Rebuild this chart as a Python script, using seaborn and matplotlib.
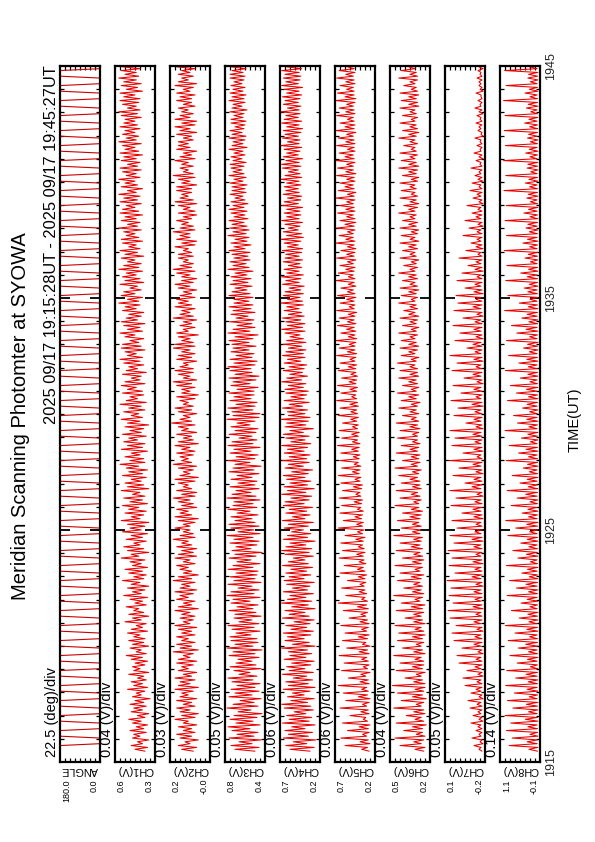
import numpy as np
import pandas as pd
import matplotlib
matplotlib.use("Agg")
import matplotlib.pyplot as plt
from matplotlib.ticker import FixedLocator, MultipleLocator
import seaborn as sns

sns.set_theme(style="white")
plt.rcParams['font.family'] = ['Liberation Sans', 'DejaVu Sans']

# ---------------- texts ----------------
title = "Meridian Scanning Photomter at SYOWA"
subtitle = "2025 09/17 19:15:28UT - 2025 09/17 19:45:27UT"
xlabel_time = "TIME(UT)"
time_tick_pos = [0, 10, 20, 30]          # minutes after 19:15
time_tick_labels = ["1915", "1925", "1935", "1945"]
data_start_min = 28 / 60                  # 19:15:28
data_end_min = 30 + 27 / 60               # 19:45:27

panel_names = ["ANGLE", "CH1(V)", "CH2(V)", "CH3(V)", "CH4(V)",
               "CH5(V)", "CH6(V)", "CH7(V)", "CH8(V)"]
div_labels = ["22.5 (deg)/div", "0.04 (V)/div", "0.03 (V)/div", "0.05 (V)/div",
              "0.06 (V)/div", "0.06 (V)/div", "0.04 (V)/div", "0.05 (V)/div",
              "0.14 (V)/div"]
div_size = [22.5, 0.04, 0.03, 0.05, 0.06, 0.06, 0.04, 0.05, 0.14]
range_min = [0.0, 0.28, -0.04, 0.40, 0.22, 0.22, 0.20, -0.25, -0.06]
top_labels = ["180.0", "0.6", "0.2", "0.8", "0.7", "0.7", "0.5", "0.1", "1.1"]
bottom_labels = ["0.0", "0.3", "-0.0", "0.4", "0.2", "0.2", "0.2", "-0.2", "-0.1"]

# ---------------- data ----------------
angle = [180, 180, 180, 180, 0, 0, 0, 0, 180, 180, 180, 180, 0, 0, 0, 0,
         180, 180, 180, 180, 0, 0, 0, 0, 180, 180, 180, 180, 0, 0, 0, 0,
         180, 180, 180, 180, 0, 0, 0, 0, 180, 180, 180, 180, 0, 0, 0, 0,
         180, 180, 180, 180, 0, 0, 0, 0, 180, 180, 180, 180, 0, 0, 0, 0,
         180, 180, 180, 180, 0, 0, 0, 0, 180, 180, 180, 180, 0, 0, 0, 0,
         180, 180, 180, 180, 0, 0, 0, 0, 180, 180, 180, 180, 0, 0, 0, 0,
         180, 180, 180, 180, 0, 0, 0, 0, 180, 180, 180, 180, 0, 0, 0, 0,
         180, 180, 180, 180, 0, 0, 0, 0, 180, 180, 180, 180, 0, 0, 0, 0,
         180, 180, 180, 180, 0, 0, 0, 0, 180, 180, 180, 180, 0, 0, 0, 0,
         180, 180, 180, 180, 0, 0, 0, 0, 180, 180, 180, 180, 0, 0, 0, 0,
         180, 180, 180, 180, 0, 0, 0, 0, 180, 180, 180, 180, 0, 0, 0, 0,
         180, 180, 180, 180, 0, 0, 0, 0, 180, 180, 180, 180, 0, 0, 0, 0,
         180, 180, 180, 180, 0, 0, 0, 0, 180, 180, 180, 180, 0, 0, 0, 0,
         180, 180, 180, 180, 0, 0, 0, 0, 180, 180, 180, 180, 0, 0, 0, 0,
         180, 180, 180, 180, 0, 0, 0, 0, 180, 180, 180, 180, 0, 0, 0, 0,
         180, 180, 180, 180, 0, 0, 0, 0, 180, 180, 180, 180, 0, 0, 0, 0,
         180, 180, 180, 180, 0, 0, 0, 0, 180, 180, 180, 180, 0, 0, 0, 0,
         180, 180, 180, 180, 0, 0, 0, 0, 180, 180, 180, 180, 0, 0, 0, 0,
         180, 180, 180, 180, 0, 0, 0, 0, 180, 180, 180, 180, 0, 0, 0, 0,
         180, 180, 180, 180, 0, 0, 0, 0, 180, 180, 180, 180, 0, 0, 0, 0,
         180, 180, 180, 180, 0, 0, 0, 0, 180, 180, 180, 180, 0, 0, 0, 0,
         180, 180, 180, 180, 0, 0, 0, 0, 180, 180, 180, 180, 0, 0, 0, 0,
         180, 180, 180, 180, 0, 0, 0, 0, 180, 180, 180, 180, 0, 0, 0, 0,
         180, 180, 180, 180]

ch1 = [.36,.44,.34,.47,.38,.42,.33,.46,.40,.45,.35,.48,
       .37,.43,.34,.46,.39,.49,.36,.42,.33,.47,.38,.45,
       .35,.48,.37,.44,.32,.46,.39,.43,.36,.50,.34,.45,
       .38,.47,.35,.42,.37,.49,.33,.45,.40,.46,.36,.44,
       .34,.47,.38,.51,.35,.43,.39,.48,.33,.46,.37,.49,
       .36,.45,.40,.50,.34,.47,.38,.43,.35,.52,.39,.46,
       .33,.49,.37,.45,.41,.51,.35,.44,.38,.48,.34,.53,
       .39,.46,.36,.50,.33,.47,.40,.54,.37,.45,.35,.49,
       .38,.52,.34,.46,.39,.48,.36,.55,.41,.47,.33,.50,
       .37,.53,.40,.45,.35,.51,.38,.47,.34,.54,.39,.48,
       .36,.50,.33,.55,.40,.47,.37,.52,.35,.49,.41,.54,
       .34,.48,.38,.53,.36,.46,.40,.55,.33,.50,.37,.52,
       .39,.47,.35,.54,.38,.49,.34,.51,.41,.56,.36,.48,
       .37,.52,.40,.47,.34,.55,.38,.50,.36,.53,.42,.49,
       .35,.54,.39,.48,.37,.52,.33,.50,.40,.55,.38,.47,
       .41,.53,.36,.49,.39,.56,.35,.51,.42,.48,.37,.54,
       .38,.50,.43,.55,.36,.52,.40,.47,.39,.54,.35,.51,
       .42,.49,.37,.53,.40,.56,.38,.50,.43,.52,.36,.55,
       .39,.54,.41,.48,.37,.52,.44,.56,.38,.50,.40,.53,
       .36,.55,.42,.51,.39,.49,.37,.54,.43,.52,.40,.57,
       .41,.50,.38,.55,.44,.53,.39,.48,.42,.56,.37,.52,
       .40,.54,.43,.51,.38,.57,.41,.53,.39,.50,.44,.55,
       .37,.52,.42,.56,.40,.49,.43,.54,.38,.55,.41,.51,
       .44,.53,.39,.57,.42,.50,.40,.55,.43,.52,.38,.56,
       .41,.54,.44,.51,.39,.56,.42,.53,.40,.57,.43,.50,
       .38,.55,.42,.52,.44,.57,.40,.51,.43,.54,.39,.56,
       .42,.50,.40,.55,.43,.53,.38,.56,.41,.52,.44,.54,
       .39,.57,.43,.51,.41,.54,.44,.52,.40,.56,.42,.53,
       .44,.52,.39,.55,.42,.57,.40,.50,.43,.54,.41,.56,
       .40,.53,.44,.56,.38,.51,.42,.55,.39,.53,.43,.57,
       .41,.52,.43,.55,.40,.54,.42,.51,.44,.56,.39,.53]

ch2 = [.06,.13,.04,.15,.08,.11,.03,.14,.07,.16,.05,.12,
       .07,.15,.04,.12,.09,.17,.05,.13,.03,.14,.08,.16,
       .05,.12,.07,.16,.04,.14,.09,.13,.06,.17,.03,.15,
       .08,.14,.05,.17,.07,.12,.04,.15,.09,.13,.06,.16,
       .04,.15,.08,.12,.06,.18,.03,.14,.07,.16,.05,.13,
       .09,.16,.05,.13,.07,.15,.04,.17,.08,.12,.06,.14,
       .05,.13,.08,.17,.03,.15,.07,.12,.05,.16,.09,.14,
       .06,.17,.04,.14,.08,.13,.05,.18,.07,.15,.03,.12,
       .07,.14,.09,.16,.05,.12,.08,.17,.04,.15,.06,.13,
       .04,.16,.07,.13,.09,.18,.05,.14,.06,.12,.08,.17,
       .08,.12,.05,.15,.03,.17,.07,.14,.09,.16,.04,.13,
       .06,.15,.08,.18,.05,.13,.04,.16,.07,.12,.09,.15,
       .05,.17,.03,.14,.08,.12,.06,.15,.04,.18,.07,.13,
       .09,.14,.06,.16,.05,.13,.08,.17,.03,.15,.06,.12,
       .07,.16,.04,.13,.09,.15,.05,.19,.07,.14,.08,.12,
       .04,.15,.07,.17,.06,.12,.09,.14,.05,.16,.03,.13,
       .08,.13,.05,.16,.07,.18,.04,.12,.08,.15,.06,.17,
       .06,.14,.09,.12,.04,.16,.07,.15,.05,.13,.08,.18,
       .05,.17,.06,.13,.08,.15,.03,.16,.09,.12,.05,.14,
       .07,.12,.04,.18,.06,.14,.08,.13,.05,.17,.07,.15,
       .09,.16,.05,.14,.07,.12,.04,.15,.08,.17,.06,.13,
       .04,.13,.08,.16,.05,.18,.07,.14,.06,.12,.09,.15,
       .06,.15,.07,.12,.09,.17,.05,.13,.04,.16,.08,.14,
       .08,.18,.05,.14,.06,.13,.09,.16,.07,.12,.04,.15,
       .05,.12,.08,.15,.04,.17,.06,.14,.09,.13,.07,.16,
       .07,.16,.04,.13,.08,.15,.05,.18,.06,.12,.09,.14,
       .06,.13,.09,.17,.05,.14,.07,.12,.04,.16,.08,.15,
       .09,.15,.06,.12,.07,.16,.04,.14,.08,.17,.05,.13,
       .04,.17,.08,.14,.06,.13,.09,.15,.05,.12,.07,.16,
       .07,.14,.05,.16,.08,.12,.06,.17,.04,.15,.09,.13,
       .06,.15,.08,.13,.05,.16,.07,.14,.09,.12,.06,.15]

ch3 = [.50,.70,.46,.74,.53,.66,.44,.76,.51,.68,.47,.73,
       .55,.77,.45,.69,.52,.75,.48,.71,.43,.67,.54,.78,
       .47,.72,.51,.65,.44,.76,.53,.70,.46,.74,.50,.68,
       .45,.73,.52,.77,.48,.66,.55,.71,.44,.75,.49,.69,
       .53,.67,.46,.76,.50,.72,.43,.78,.52,.70,.47,.74,
       .48,.75,.54,.69,.45,.73,.51,.77,.46,.66,.53,.71,
       .44,.70,.49,.76,.52,.68,.47,.74,.55,.72,.45,.78,
       .51,.74,.46,.67,.53,.77,.44,.71,.50,.75,.48,.69,
       .47,.77,.52,.72,.45,.68,.54,.76,.49,.70,.43,.73,
       .54,.69,.48,.75,.46,.71,.52,.78,.45,.67,.51,.74,
       .46,.76,.50,.70,.53,.74,.47,.68,.55,.77,.48,.72,
       .52,.71,.45,.78,.49,.73,.54,.69,.46,.75,.50,.67,
       .48,.74,.53,.68,.46,.76,.51,.72,.44,.70,.55,.77,
       .50,.69,.47,.75,.54,.71,.45,.77,.52,.73,.48,.66,
       .53,.76,.49,.70,.47,.74,.55,.68,.50,.78,.46,.72,
       .45,.73,.52,.77,.50,.69,.48,.75,.54,.71,.51,.76,
       .51,.68,.47,.74,.55,.72,.49,.76,.46,.70,.53,.75,
       .54,.77,.50,.71,.48,.75,.53,.69,.51,.74,.56,.72,
       .49,.73,.56,.76,.52,.70,.47,.77,.55,.72,.50,.68,
       .53,.75,.51,.69,.57,.74,.50,.72,.54,.76,.52,.71,
       .56,.71,.52,.76,.55,.73,.58,.70,.53,.75,.57,.72,
       .54,.74,.58,.70,.52,.77,.56,.72,.59,.75,.55,.71,
       .57,.73,.55,.76,.60,.71,.54,.74,.58,.70,.56,.77,
       .59,.72,.56,.75,.58,.73,.61,.76,.57,.71,.60,.74,
       .58,.76,.61,.72,.57,.74,.60,.70,.62,.75,.59,.73,
       .60,.73,.58,.75,.62,.71,.59,.76,.61,.72,.63,.74,
       .61,.75,.59,.72,.63,.74,.60,.71,.62,.76,.58,.73,
       .62,.72,.60,.76,.59,.73,.63,.75,.61,.70,.60,.74,
       .59,.74,.62,.71,.61,.75,.58,.73,.63,.72,.60,.76,
       .61,.73,.59,.75,.62,.72,.60,.74,.63,.71,.61,.75,
       .60,.75,.62,.73,.59,.74,.61,.72,.63,.76,.60,.73]

ch4 = [.34,.58,.29,.63,.38,.54,.27,.66,.36,.60,.31,.64,
       .40,.56,.28,.67,.35,.59,.32,.62,.39,.53,.30,.65,
       .33,.68,.37,.57,.29,.61,.41,.55,.34,.66,.28,.60,
       .36,.63,.31,.54,.38,.67,.30,.59,.40,.62,.33,.56,
       .29,.65,.39,.58,.32,.60,.37,.68,.28,.55,.35,.64,
       .41,.61,.33,.66,.30,.57,.38,.63,.34,.53,.29,.67,
       .35,.59,.40,.64,.28,.56,.36,.68,.32,.61,.39,.58,
       .30,.66,.37,.55,.34,.62,.29,.65,.41,.59,.33,.63,
       .38,.57,.31,.67,.36,.60,.40,.54,.30,.64,.35,.68,
       .32,.63,.39,.58,.28,.66,.37,.61,.33,.56,.42,.65,
       .36,.60,.30,.67,.40,.55,.34,.63,.38,.59,.31,.66,
       .41,.64,.35,.57,.32,.68,.39,.61,.29,.65,.37,.58,
       .33,.62,.40,.66,.36,.56,.31,.64,.42,.60,.35,.67,
       .38,.59,.34,.65,.41,.61,.37,.68,.33,.57,.40,.63,
       .35,.66,.42,.58,.30,.64,.39,.62,.36,.69,.34,.60,
       .40,.61,.37,.67,.43,.59,.35,.65,.41,.57,.38,.63,
       .36,.64,.42,.60,.39,.68,.44,.62,.37,.58,.43,.66,
       .41,.59,.38,.65,.45,.61,.40,.67,.42,.63,.39,.60,
       .44,.66,.39,.62,.42,.58,.46,.64,.40,.68,.43,.61,
       .40,.63,.45,.67,.41,.60,.44,.65,.47,.62,.42,.69,
       .43,.61,.46,.66,.42,.64,.45,.59,.41,.67,.47,.63,
       .45,.68,.42,.62,.47,.65,.44,.60,.46,.66,.43,.64,
       .47,.63,.44,.67,.43,.61,.48,.65,.45,.69,.42,.62,
       .44,.66,.48,.60,.46,.64,.43,.68,.47,.62,.45,.65,
       .46,.62,.43,.67,.48,.65,.45,.61,.44,.66,.47,.63,
       .48,.65,.45,.62,.47,.69,.44,.64,.46,.60,.48,.67,
       .45,.68,.47,.63,.43,.66,.48,.62,.46,.65,.44,.69,
       .47,.61,.46,.67,.48,.64,.45,.66,.43,.62,.47,.68,
       .44,.65,.48,.63,.46,.69,.47,.61,.45,.66,.48,.64,
       .46,.67,.44,.62,.47,.65,.43,.68,.48,.63,.46,.66,
       .45,.64,.47,.68,.44,.62,.48,.65,.46,.67,.45,.63]

ch5 = [.29,.38,.31,.58,.28,.40,.30,.63,.32,.37,.29,.55,
       .30,.41,.28,.61,.31,.36,.33,.52,.29,.39,.30,.64,
       .32,.37,.29,.57,.28,.42,.31,.60,.30,.38,.32,.66,
       .29,.40,.30,.54,.33,.39,.28,.62,.31,.36,.29,.59,
       .30,.38,.32,.65,.29,.41,.31,.56,.28,.37,.33,.61,
       .31,.42,.29,.58,.32,.38,.30,.63,.29,.40,.31,.53,
       .33,.39,.31,.60,.30,.43,.32,.66,.31,.38,.34,.57,
       .32,.41,.34,.62,.35,.40,.33,.55,.34,.42,.32,.64,
       .34,.43,.36,.59,.33,.41,.35,.65,.36,.44,.34,.61,
       .35,.42,.37,.63,.36,.45,.34,.58,.37,.43,.35,.66,
       .37,.44,.36,.60,.38,.46,.37,.64,.36,.43,.39,.62,
       .38,.47,.37,.65,.39,.45,.40,.61,.38,.48,.37,.63,
       .40,.46,.39,.66,.41,.49,.40,.62,.39,.47,.42,.64,
       .41,.48,.40,.63,.42,.50,.41,.67,.40,.49,.43,.62,
       .42,.50,.41,.65,.43,.49,.42,.61,.44,.51,.42,.66,
       .43,.51,.44,.64,.42,.52,.43,.68,.44,.50,.45,.63,
       .44,.52,.43,.67,.45,.53,.44,.62,.43,.51,.45,.66,
       .45,.54,.44,.64,.46,.52,.45,.68,.44,.55,.46,.65,
       .46,.53,.45,.69,.44,.54,.46,.63,.45,.56,.47,.67,
       .45,.55,.47,.65,.46,.54,.44,.68,.47,.53,.46,.64,
       .47,.56,.45,.67,.46,.55,.48,.63,.45,.54,.47,.69,
       .46,.54,.48,.66,.47,.57,.46,.64,.48,.55,.45,.68,
       .47,.56,.46,.63,.45,.55,.47,.69,.46,.57,.48,.65,
       .48,.55,.46,.68,.47,.58,.45,.64,.46,.56,.48,.67,
       .46,.57,.47,.65,.48,.56,.46,.69,.47,.55,.45,.66,
       .47,.58,.48,.64,.46,.56,.47,.68,.45,.57,.48,.67,
       .48,.56,.46,.69,.47,.58,.48,.65,.46,.55,.47,.68,
       .46,.57,.47,.66,.48,.56,.45,.69,.47,.58,.46,.64,
       .47,.55,.48,.68,.46,.57,.47,.65,.48,.56,.46,.69,
       .45,.58,.47,.67,.47,.56,.48,.64,.46,.57,.47,.68,
       .48,.57,.46,.65,.47,.55,.48,.69,.46,.58,.47,.66]

ch6 = [.25,.32,.24,.44,.27,.33,.25,.48,.24,.31,.26,.41,
       .26,.34,.23,.47,.25,.32,.27,.39,.24,.33,.25,.49,
       .27,.31,.25,.43,.23,.34,.26,.46,.25,.32,.24,.50,
       .24,.33,.26,.40,.27,.31,.24,.47,.26,.34,.25,.44,
       .25,.32,.27,.49,.24,.33,.26,.42,.27,.31,.25,.46,
       .26,.34,.24,.45,.25,.32,.27,.48,.24,.33,.26,.40,
       .27,.33,.25,.47,.26,.35,.24,.43,.28,.32,.26,.49,
       .25,.34,.27,.41,.26,.33,.28,.46,.27,.35,.25,.44,
       .28,.32,.26,.48,.27,.34,.25,.42,.26,.33,.28,.47,
       .26,.35,.28,.44,.27,.33,.26,.49,.28,.34,.27,.43,
       .27,.34,.29,.46,.28,.36,.27,.42,.26,.35,.29,.48,
       .29,.33,.27,.44,.28,.35,.30,.47,.27,.34,.28,.43,
       .28,.36,.30,.45,.29,.34,.27,.48,.30,.35,.28,.42,
       .29,.35,.28,.47,.30,.36,.29,.43,.28,.34,.30,.46,
       .30,.34,.29,.44,.28,.36,.30,.47,.29,.35,.31,.42,
       .29,.36,.31,.45,.30,.35,.28,.43,.31,.37,.29,.46,
       .31,.35,.29,.42,.30,.37,.31,.45,.29,.36,.30,.44,
       .30,.36,.32,.46,.31,.35,.29,.43,.32,.37,.30,.44,
       .29,.37,.31,.43,.32,.36,.30,.45,.31,.35,.29,.42,
       .31,.36,.30,.44,.29,.37,.32,.41,.30,.36,.31,.45,
       .32,.35,.30,.43,.31,.37,.29,.44,.30,.36,.32,.42,
       .30,.37,.31,.45,.32,.36,.30,.41,.31,.35,.29,.44,
       .31,.36,.32,.42,.30,.37,.31,.44,.29,.36,.32,.43,
       .30,.35,.29,.44,.31,.37,.30,.42,.32,.36,.31,.45,
       .32,.37,.30,.41,.29,.36,.31,.44,.30,.35,.32,.43,
       .31,.36,.32,.44,.30,.35,.29,.42,.31,.37,.30,.45,
       .29,.37,.31,.43,.32,.36,.30,.44,.31,.35,.32,.41,
       .30,.36,.32,.45,.31,.37,.29,.42,.30,.36,.31,.44,
       .32,.35,.30,.42,.31,.36,.32,.44,.29,.37,.30,.43,
       .31,.37,.29,.44,.30,.35,.31,.41,.32,.36,.30,.45,
       .30,.36,.31,.43,.32,.37,.30,.44,.31,.35,.32,.42]

ch7 = [-.22,-.19,-.21,-.14,-.23,-.20,-.22,-.12,-.21,-.19,-.22,-.16,
       -.22,-.18,-.21,-.11,-.23,-.19,-.22,-.13,-.21,-.18,-.22,-.10,
       -.22,-.17,-.21,-.08,-.23,-.19,-.22,-.11,-.21,-.16,-.22,-.05,
       -.22,-.17,-.21,-.03,-.23,-.18,-.22,-.07,-.21,-.15,-.22,.01,
       -.22,-.16,-.21,.03,-.23,-.18,-.22,-.02,-.21,-.14,-.22,.06,
       -.22,-.15,-.21,.08,-.23,-.17,-.22,.04,-.21,-.14,-.22,.10,
       -.22,-.16,-.21,.12,-.23,-.13,-.22,.07,-.21,-.15,-.22,.11,
       -.22,-.14,-.21,.09,-.23,-.16,-.22,.13,-.21,-.12,-.22,.05,
       -.22,-.15,-.21,.11,-.23,-.13,-.22,.08,-.21,-.16,-.22,.12,
       -.22,-.14,-.21,.06,-.23,-.12,-.22,.10,-.21,-.15,-.22,.03,
       -.22,-.16,-.21,.08,-.23,-.14,-.22,-.02,-.21,-.13,-.22,.09,
       -.22,-.15,-.21,.04,-.23,-.17,-.22,.10,-.21,-.12,-.22,-.05,
       -.22,-.14,-.21,.07,-.23,-.16,-.22,.01,-.21,-.13,-.22,.11,
       -.22,-.17,-.21,-.03,-.23,-.14,-.22,.08,-.21,-.15,-.22,.05,
       -.22,-.13,-.21,.10,-.23,-.16,-.22,-.06,-.21,-.14,-.22,.06,
       -.22,-.15,-.21,.02,-.23,-.12,-.22,.09,-.21,-.16,-.22,-.01,
       -.22,-.14,-.21,.07,-.23,-.17,-.22,-.04,-.21,-.13,-.22,.08,
       -.22,-.16,-.21,.03,-.23,-.14,-.22,.10,-.21,-.15,-.22,-.07,
       -.22,-.13,-.21,.05,-.23,-.16,-.22,.00,-.21,-.14,-.22,.07,
       -.22,-.15,-.21,-.03,-.23,-.17,-.22,.06,-.21,-.13,-.22,.02,
       -.22,-.16,-.21,.04,-.23,-.14,-.22,-.05,-.21,-.15,-.22,.03,
       -.22,-.17,-.21,-.02,-.23,-.15,-.22,-.08,-.21,-.16,-.22,.01,
       -.22,-.18,-.21,-.06,-.23,-.16,-.22,-.11,-.21,-.17,-.22,-.03,
       -.22,-.17,-.21,-.09,-.23,-.18,-.22,-.05,-.21,-.16,-.22,-.12,
       -.22,-.18,-.21,-.07,-.23,-.19,-.22,-.13,-.21,-.17,-.22,-.10,
       -.22,-.19,-.21,-.12,-.23,-.18,-.22,-.15,-.21,-.19,-.22,-.11,
       -.22,-.20,-.21,-.16,-.23,-.19,-.22,-.14,-.21,-.20,-.22,-.17,
       -.22,-.20,-.21,-.15,-.23,-.21,-.22,-.18,-.21,-.19,-.22,-.16,
       -.22,-.20,-.21,-.17,-.23,-.19,-.22,-.15,-.21,-.20,-.22,-.18,
       -.22,-.21,-.21,-.16,-.23,-.20,-.22,-.19,-.21,-.19,-.22,-.17,
       -.22,-.20,-.21,-.18,-.23,-.19,-.22,-.16,-.21,-.20,-.22,-.19]

ch8 = [.01,.25,.00,.80,.02,.30,.01,.72,.00,.22,.01,.88,
       .01,.28,.02,.76,.00,.35,.01,.92,.02,.26,.00,.70,
       .01,.32,.00,.85,.02,.24,.01,.66,.00,.30,.02,.90,
       .01,.27,.00,.62,.02,.33,.01,.87,.00,.21,.01,.58,
       .02,.29,.00,.78,.01,.26,.02,.55,.00,.34,.01,.83,
       .01,.23,.02,.64,.00,.31,.01,.91,.02,.25,.00,.52,
       .01,.28,.00,.74,.02,.22,.01,.47,.00,.30,.02,.86,
       .01,.26,.00,.60,.02,.33,.01,.79,.00,.24,.01,.45,
       .02,.29,.00,.88,.01,.21,.02,.56,.00,.32,.01,.70,
       .01,.25,.02,.48,.00,.30,.01,.84,.02,.23,.00,.62,
       .01,.31,.00,.90,.02,.26,.01,.44,.00,.28,.02,.75,
       .01,.22,.00,.58,.02,.34,.01,.86,.00,.27,.01,.50,
       .02,.30,.00,.72,.01,.24,.02,.41,.00,.29,.01,.89,
       .01,.26,.02,.54,.00,.33,.01,.80,.02,.21,.00,.46,
       .01,.28,.00,.92,.02,.25,.01,.57,.00,.31,.02,.68,
       .01,.23,.00,.43,.02,.30,.01,.85,.00,.26,.01,.60,
       .02,.32,.00,.77,.01,.22,.02,.49,.00,.28,.01,.91,
       .01,.27,.02,.53,.00,.31,.01,.82,.02,.24,.00,.40,
       .01,.29,.00,.88,.02,.23,.01,.59,.00,.33,.02,.74,
       .01,.25,.00,.45,.02,.30,.01,.93,.00,.27,.01,.52,
       .02,.22,.00,.84,.01,.28,.02,.38,.00,.24,.01,.90,
       .01,.30,.02,.48,.00,.26,.01,.87,.02,.21,.00,.36,
       .01,.27,.00,.94,.02,.23,.01,.42,.00,.29,.02,.88,
       .01,.24,.00,.33,.02,.28,.01,.92,.00,.22,.01,.39,
       .02,.26,.00,.89,.01,.21,.02,.31,.00,.27,.01,.95,
       .01,.23,.02,.35,.00,.25,.01,.90,.02,.20,.00,.30,
       .01,.28,.00,.96,.02,.22,.01,.34,.00,.24,.02,.91,
       .01,.21,.00,.29,.02,.26,.01,.94,.00,.23,.01,.37,
       .02,.25,.00,.92,.01,.20,.02,.32,.00,.27,.01,.96,
       .01,.22,.02,.36,.00,.24,.01,.89,.02,.21,.00,.28,
       .01,.26,.00,.93,.02,.23,.01,.33,.00,.25,.02,.90]

series = [angle, ch1, ch2, ch3, ch4, ch5, ch6, ch7, ch8]

# ---------------- layout (pixel geometry of the page) ----------------
W, H = 595, 842
fig = plt.figure(figsize=(W / 100, H / 100), dpi=100)
fig.patch.set_facecolor("white")

panel_left0, panel_step, panel_w = 60, 55, 40
panel_top, panel_bottom = 66, 762

def fx(px):
    return px / W

def fy(py):
    return 1 - py / H

line_colors = ["#cc0000"] + ["#e80000"] * 8
line_widths = [0.8] + [0.75] * 8

for i, vals in enumerate(series):
    L = panel_left0 + panel_step * i
    R = L + panel_w
    ax = fig.add_axes([fx(L), fy(panel_bottom), panel_w / W,
                       (panel_bottom - panel_top) / H])
    t = np.linspace(data_start_min, data_end_min, len(vals))
    df = pd.DataFrame({"value": vals, "time": t})
    sns.lineplot(data=df, x="value", y="time", orient="y", sort=False,
                 estimator=None, color=line_colors[i],
                 linewidth=line_widths[i], ax=ax)
    vmin = range_min[i]
    vmax = vmin + 8 * div_size[i]
    ax.set_xlim(vmax, vmin)
    ax.set_ylim(0, 30)
    ax.set_xlabel("")
    ax.set_ylabel("")
    ax.set_facecolor("white")
    for sp in ax.spines.values():
        sp.set_color("black")
        sp.set_linewidth(1.6)
        sp.set_zorder(5)
    # value-axis division ticks
    ax.set_xticks([vmin + div_size[i] * k for k in range(1, 8)])
    ax.tick_params(axis="x", which="major", direction="in", length=3,
                   width=0.9, color="black", top=True, bottom=True,
                   labelbottom=False, labeltop=False)
    # time ticks
    ax.yaxis.set_major_locator(FixedLocator(time_tick_pos))
    ax.yaxis.set_minor_locator(MultipleLocator(1))
    ax.tick_params(axis="y", which="major", direction="in", length=7,
                   width=1.3, color="black", left=True, right=True,
                   labelleft=False, labelright=False)
    ax.tick_params(axis="y", which="minor", direction="in", length=3,
                   width=0.9, color="black", left=True, right=True)
    if i == len(series) - 1:
        ax.set_yticks(time_tick_pos)
        ax.set_yticklabels(time_tick_labels)
        ax.tick_params(axis="y", which="major", labelright=True,
                       labelsize=9, pad=4)
        for lab in ax.get_yticklabels():
            lab.set_rotation(90)
            lab.set_va("center")
            lab.set_ha("left")
    # range labels (landscape y-tick labels)
    fig.text(fx(L + 2), fy(779), top_labels[i], rotation=90, ha="left",
             va="top", fontsize=6.5, color="black")
    fig.text(fx(R - 1), fy(779), bottom_labels[i], rotation=90, ha="right",
             va="top", fontsize=6.5, color="black")
    # channel name
    fig.text(fx((L + R) / 2), fy(770), panel_names[i], rotation=180,
             ha="center", va="center", fontsize=7.8, color="black")
    # scale label
    fig.text(fx(L - 8), fy(757), div_labels[i], rotation=90, ha="center",
             va="bottom", fontsize=10.5, color="black")

fig.text(fx(21), fy(416), title, rotation=90, ha="center", va="center",
         fontsize=14.5, color="black")
fig.text(fx(52), fy(65), subtitle, rotation=90, ha="center", va="top",
         fontsize=11.8, color="black")
fig.text(fx(575), fy(420), xlabel_time, rotation=90, ha="center",
         va="center", fontsize=10.5, color="black")

fig.savefig("out.png", dpi=100, facecolor="white")
